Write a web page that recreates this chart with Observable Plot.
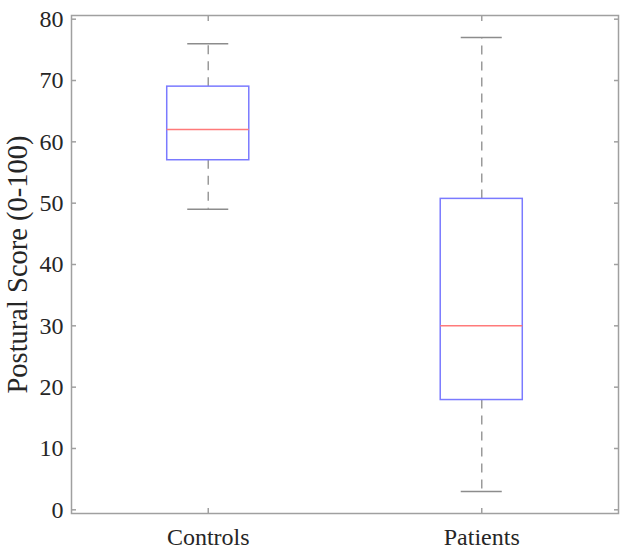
<!DOCTYPE html>
<html>
<head>
<meta charset="utf-8">
<script src="https://cdn.jsdelivr.net/npm/d3@7"></script>
<script src="https://cdn.jsdelivr.net/npm/@observablehq/plot@0.6"></script>
<style>
  html, body { margin: 0; padding: 0; background: #ffffff; }
  #chart svg { display: block; }
  #chart svg text { font-variant-numeric: normal !important; }
</style>
</head>
<body>
<div id="chart"></div>
<script>
const categories = ["Controls", "Patients"];
const lowerWhisker = [49, 3];
const q1 = [57, 17.9];
const median = [62, 30];
const q3 = [69, 50.7];
const upperWhisker = [76, 77];
const yTicks = [0, 10, 20, 30, 40, 50, 60, 70, 80];
const yLabel = "Postural Score (0-100)";

const rows = categories.map((c, i) => ({
  name: c, pos: i + 1,
  lo: lowerWhisker[i], q1: q1[i], med: median[i], q3: q3[i], hi: upperWhisker[i]
}));

const boxHalf = 0.15, capHalf = 0.075;
const axisGray = "#a0a0a0";
const textColor = "#262626";
const catFormat = v => categories[v - 1];

const chart = Plot.plot({
  width: 630,
  height: 551,
  marginLeft: 71,
  marginRight: 12,
  marginTop: 15,
  marginBottom: 38,
  style: { fontFamily: "'Liberation Serif', 'Times New Roman', serif", fontSize: "24px", background: "#ffffff", color: textColor },
  x: { domain: [0.5, 2.5] },
  y: { domain: [-0.6, 80.6] },
  marks: [
    Plot.axisY({ anchor: "left", ticks: yTicks, tickSize: -5, tickPadding: 13, stroke: axisGray, strokeWidth: 1.5, fill: textColor, label: null, fontSize: 24, fontVariant: "normal" }),
    Plot.axisY({ anchor: "right", ticks: yTicks, tickSize: -5, tickFormat: () => "", stroke: axisGray, strokeWidth: 1.5, label: null }),
    Plot.axisX({ anchor: "bottom", ticks: [1, 2], tickSize: -5, tickPadding: 19, tickFormat: catFormat, stroke: axisGray, strokeWidth: 1.5, fill: textColor, label: null, fontSize: 24, fontVariant: "normal" }),
    Plot.axisX({ anchor: "top", ticks: [1, 2], tickSize: -5, tickFormat: () => "", stroke: axisGray, strokeWidth: 1.5, label: null }),
    Plot.frame({ stroke: axisGray, strokeWidth: 1.5 }),
    Plot.text([yLabel], { frameAnchor: "left", dx: -54, rotate: -90, text: d => d, fontSize: 28.5, fill: textColor, textAnchor: "middle", lineAnchor: "middle" }),
    // whiskers
    Plot.ruleX(rows, { x: "pos", y1: "q3", y2: "hi", stroke: "#9a9a9a", strokeWidth: 1.5, strokeDasharray: "9,7" }),
    Plot.ruleX(rows, { x: "pos", y1: "q1", y2: "lo", stroke: "#9a9a9a", strokeWidth: 1.5, strokeDasharray: "9,7" }),
    // caps
    Plot.ruleY(rows, { y: "hi", x1: d => d.pos - capHalf, x2: d => d.pos + capHalf, stroke: "#8c8c8c", strokeWidth: 1.5 }),
    Plot.ruleY(rows, { y: "lo", x1: d => d.pos - capHalf, x2: d => d.pos + capHalf, stroke: "#8c8c8c", strokeWidth: 1.5 }),
    // boxes
    Plot.rect(rows, { x1: d => d.pos - boxHalf, x2: d => d.pos + boxHalf, y1: "q1", y2: "q3", fill: "#ffffff", stroke: "#7a7aff", strokeWidth: 1.5 }),
    // medians
    Plot.ruleY(rows, { y: "med", x1: d => d.pos - boxHalf, x2: d => d.pos + boxHalf, stroke: "#ff7a7a", strokeWidth: 1.5 })
  ]
});
document.getElementById("chart").appendChild(chart);
</script>
</body>
</html>
